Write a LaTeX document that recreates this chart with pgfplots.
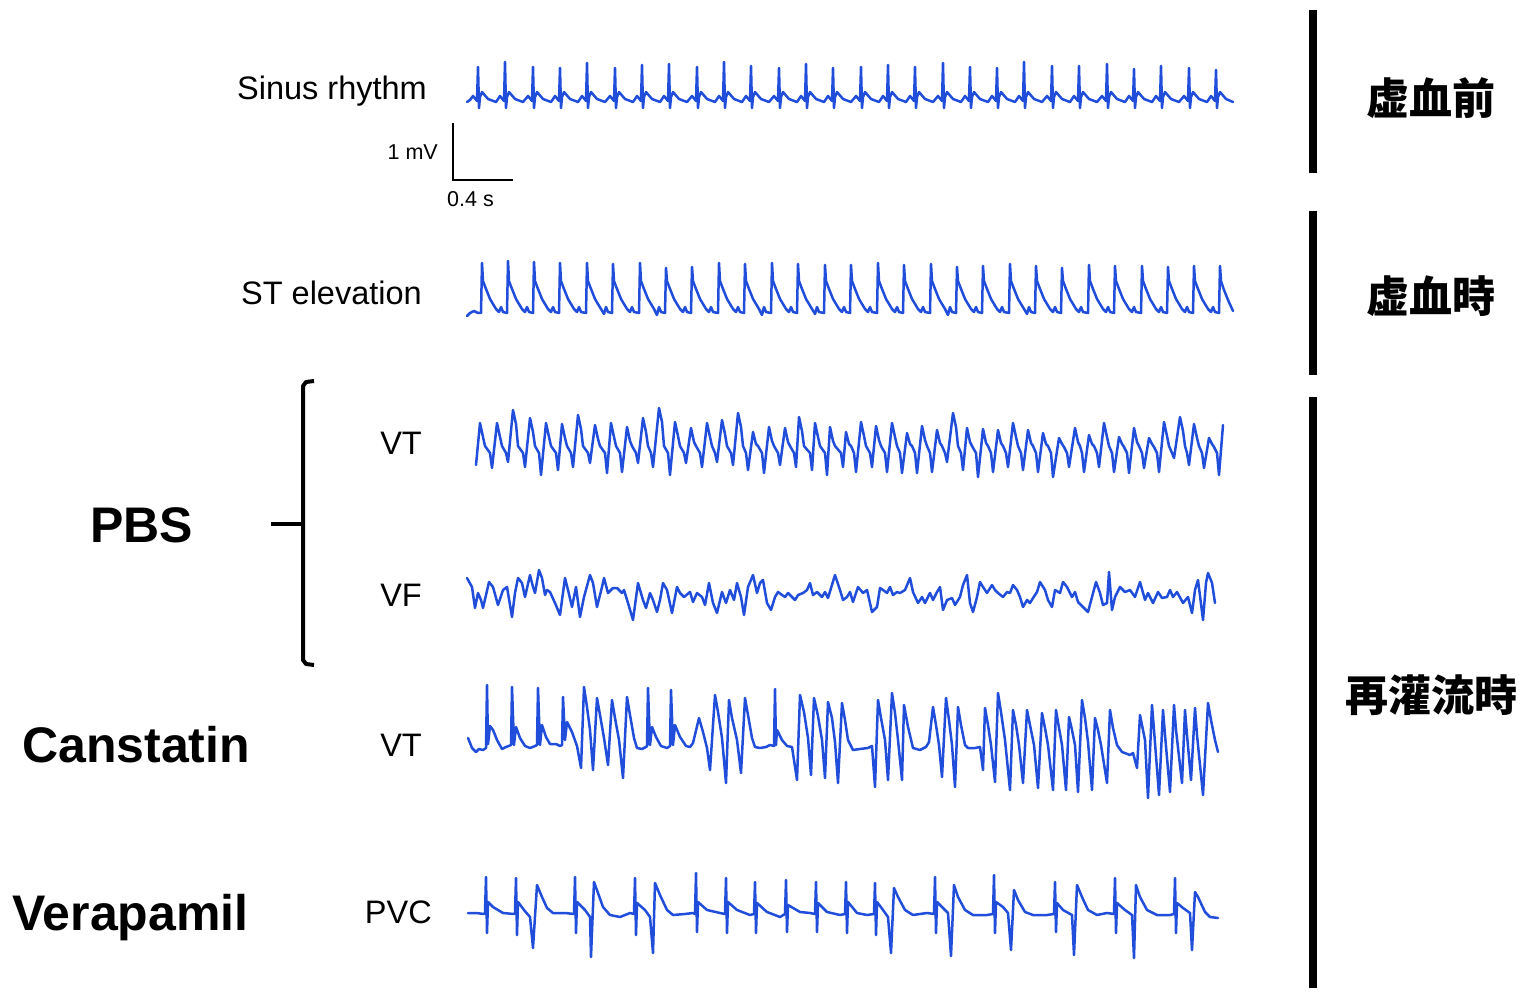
\documentclass[border=0pt]{standalone}
\usepackage{fontspec}
\setmainfont{Liberation Sans}
\newfontfamily\cjk{Noto Sans CJK JP}
\usepackage{pgfplots}
\pgfplotsset{compat=1.18}
\definecolor{ecg}{RGB}{32,78,218}
\pgfplotsset{trace/.style={ecg, line width=2.5pt, line join=round, line cap=round, mark=none}}
\begin{document}
\begin{tikzpicture}
\begin{axis}[width=1526pt, height=988pt, scale only axis,
  xmin=0, xmax=1526, ymin=0, ymax=988, y dir=reverse,
  hide axis, clip=false]
\path (axis cs:0,0) rectangle (axis cs:1526,988);

% sinus rhythm
\addplot[trace] coordinates {(467,102)(470,100)
(473,96)(477,101)(478,67)(479,108)(480,97)(482,92)(488,99)(496,102)
(500,96)(504,101)(505,62)(506,108)(507,97)(509,92)(515,99)(523,102)
(528,96)(532,101)(533,67)(534,108)(535,97)(537,92)(543,99)(551,102)
(555,96)(559,101)(560,68)(561,108)(562,97)(564,92)(570,99)(578,102)
(582,96)(586,101)(587,63)(588,108)(589,97)(591,92)(597,99)(605,102)
(610,96)(614,101)(615,68)(616,108)(617,97)(619,92)(625,99)(633,102)
(637,96)(641,101)(642,65)(643,108)(644,97)(646,92)(652,99)(660,102)
(664,96)(668,101)(669,64)(670,108)(671,97)(673,92)(679,99)(687,102)
(692,96)(696,101)(697,67)(698,108)(699,97)(701,92)(707,99)(715,102)
(719,96)(723,101)(724,62)(725,108)(726,97)(728,92)(734,99)(742,102)
(746,96)(750,101)(751,66)(752,108)(753,97)(755,92)(761,99)(769,102)
(774,96)(778,101)(779,68)(780,108)(781,97)(783,92)(789,99)(797,102)
(801,96)(805,101)(806,64)(807,108)(808,97)(810,92)(816,99)(824,102)
(828,96)(832,101)(833,68)(834,108)(835,97)(837,92)(843,99)(851,102)
(856,96)(860,101)(861,67)(862,108)(863,97)(865,92)(871,99)(879,102)
(883,96)(887,101)(888,65)(889,108)(890,97)(892,92)(898,99)(906,102)
(910,96)(914,101)(915,67)(916,108)(917,97)(919,92)(925,99)(933,102)
(938,96)(942,101)(943,63)(944,108)(945,97)(947,92)(953,99)(961,102)
(965,96)(969,101)(970,67)(971,108)(972,97)(974,92)(980,99)(988,102)
(992,96)(996,101)(997,68)(998,108)(999,97)(1001,92)(1007,99)(1015,102)
(1019,96)(1023,101)(1024,62)(1025,108)(1026,97)(1028,92)(1034,99)(1042,102)
(1047,96)(1051,101)(1052,66)(1053,108)(1054,97)(1056,92)(1062,99)(1070,102)
(1074,96)(1078,101)(1079,66)(1080,108)(1081,97)(1083,92)(1089,99)(1097,102)
(1102,96)(1106,101)(1107,64)(1108,108)(1109,97)(1111,92)(1117,99)(1125,102)
(1129,96)(1133,101)(1134,69)(1135,108)(1136,97)(1138,92)(1144,99)(1152,102)
(1156,96)(1160,101)(1161,66)(1162,108)(1163,97)(1165,92)(1171,99)(1179,102)
(1184,96)(1188,101)(1189,68)(1190,108)(1191,97)(1193,92)(1199,99)(1207,102)
(1211,96)(1215,101)(1216,70)(1217,108)(1218,97)(1220,92)(1226,99)(1233,102)};

% ST elevation
\addplot[trace] coordinates {(467,316)(470,313)(474,311)(478,313)
(481,313)(482,263)(483,281)(486,289)(490,299)(496,309)(499,312)(501,307)(503,312)
(507,313)(508,261)(509,281)(512,289)(516,299)(522,309)(525,312)(527,307)(529,312)
(533,313)(534,262)(535,281)(538,289)(542,299)(548,309)(551,312)(553,307)(555,312)
(559,313)(560,263)(561,281)(564,289)(568,299)(574,309)(577,312)(579,307)(581,312)
(586,313)(587,263)(588,281)(591,289)(595,299)(601,309)(604,314)(606,307)(608,312)
(612,313)(613,264)(614,281)(617,289)(621,299)(627,309)(630,312)(632,307)(634,312)
(639,313)(640,263)(641,281)(644,289)(648,299)(654,309)(657,315)(659,307)(661,312)
(665,313)(666,268)(667,281)(670,289)(674,299)(680,309)(683,312)(685,307)(687,312)
(691,313)(692,267)(693,281)(696,289)(700,299)(706,309)(709,312)(711,307)(713,312)
(718,313)(719,263)(720,281)(723,289)(727,299)(733,309)(736,312)(738,307)(740,312)
(744,313)(745,264)(746,281)(749,289)(753,299)(759,309)(762,315)(764,307)(766,312)
(771,313)(772,263)(773,281)(776,289)(780,299)(786,309)(789,312)(791,307)(793,312)
(797,313)(798,264)(799,281)(802,289)(806,299)(812,309)(815,314)(817,307)(819,312)
(824,313)(825,265)(826,281)(829,289)(833,299)(839,309)(842,312)(844,307)(846,312)
(850,313)(851,265)(852,281)(855,289)(859,299)(865,309)(868,312)(870,307)(872,312)
(877,313)(878,263)(879,281)(882,289)(886,299)(892,309)(895,312)(897,307)(899,312)
(903,313)(904,265)(905,281)(908,289)(912,299)(918,309)(921,312)(923,307)(925,312)
(930,313)(931,264)(932,281)(935,289)(939,299)(945,309)(948,315)(950,307)(952,312)
(956,313)(957,267)(958,281)(961,289)(965,299)(971,309)(974,312)(976,307)(978,312)
(982,313)(983,266)(984,281)(987,289)(991,299)(997,309)(1000,312)(1002,307)(1004,312)
(1009,313)(1010,264)(1011,281)(1014,289)(1018,299)(1024,309)(1027,314)(1029,307)(1031,312)
(1035,313)(1036,266)(1037,281)(1040,289)(1044,299)(1050,309)(1053,312)(1055,307)(1057,312)
(1061,313)(1062,268)(1063,281)(1066,289)(1070,299)(1076,309)(1079,312)(1081,307)(1083,312)
(1088,313)(1089,265)(1090,281)(1093,289)(1097,299)(1103,309)(1106,312)(1108,307)(1110,312)
(1114,313)(1115,266)(1116,281)(1119,289)(1123,299)(1129,309)(1132,312)(1134,307)(1136,312)
(1141,313)(1142,266)(1143,281)(1146,289)(1150,299)(1156,309)(1159,312)(1161,307)(1163,312)
(1167,313)(1168,267)(1169,281)(1172,289)(1176,299)(1182,309)(1185,312)(1187,307)(1189,312)
(1193,313)(1194,266)(1195,281)(1198,289)(1202,299)(1208,309)(1211,312)(1213,307)(1215,312)
(1219,313)(1220,266)(1221,281)(1224,290)(1228,300)(1233,311)};

% PBS VT
\addplot[trace] coordinates {(476,465)
(480,423)(483,437)(485,446)(490,453)(492,468)
(497,423)(500,437)(502,446)(506,453)(508,462)
(513,410)(516,424)(518,446)(523,453)(525,467)
(530,418)(533,432)(535,446)(539,453)(541,475)
(546,423)(549,437)(551,446)(556,453)(558,470)
(562,424)(565,438)(567,446)(571,453)(573,467)
(578,415)(581,429)(583,446)(588,453)(590,463)
(595,425)(598,439)(600,446)(605,453)(607,473)
(611,423)(614,437)(616,446)(620,453)(622,472)
(627,427)(630,441)(632,446)(636,453)(638,463)
(643,418)(646,432)(648,446)(651,453)(653,467)
(659,408)(662,422)(664,446)(668,453)(670,475)
(675,422)(678,436)(680,446)(684,453)(686,463)
(691,428)(694,442)(696,446)(700,453)(702,467)
(707,423)(710,437)(712,446)(715,453)(717,462)
(722,420)(725,434)(727,446)(731,453)(733,465)
(738,413)(741,427)(743,446)(746,453)(748,470)
(753,432)(756,444)(758,446)(762,453)(764,473)
(769,427)(772,441)(774,446)(778,453)(780,465)
(785,428)(788,442)(790,446)(794,453)(796,467)
(799,417)(802,431)(804,446)(810,453)(812,470)
(815,423)(818,437)(820,446)(825,453)(827,475)
(830,427)(833,441)(835,446)(841,453)(843,467)
(846,432)(849,444)(851,446)(854,453)(856,472)
(861,422)(864,436)(866,446)(870,453)(872,467)
(876,426)(879,440)(881,446)(885,453)(887,472)
(892,423)(895,437)(897,446)(900,453)(902,473)
(907,433)(910,444)(912,446)(915,453)(917,473)
(922,426)(925,440)(927,446)(930,453)(932,472)
(937,430)(940,443)(942,446)(945,453)(947,462)
(953,413)(956,427)(958,446)(961,453)(963,470)
(967,428)(970,442)(972,446)(976,453)(978,477)
(983,429)(986,443)(988,446)(991,453)(993,472)
(998,430)(1001,443)(1003,446)(1006,453)(1008,467)
(1013,423)(1016,437)(1018,446)(1021,453)(1023,470)
(1028,430)(1031,443)(1033,446)(1036,453)(1038,472)
(1043,433)(1046,444)(1048,446)(1051,453)(1053,477)
(1059,438)(1062,444)(1064,447)(1067,453)(1069,467)
(1075,428)(1078,442)(1080,446)(1082,453)(1084,472)
(1089,435)(1092,444)(1094,446)(1097,453)(1099,467)
(1104,423)(1107,437)(1109,446)(1112,453)(1114,472)
(1119,437)(1122,444)(1124,447)(1127,453)(1129,473)
(1134,428)(1137,442)(1139,446)(1142,453)(1144,468)
(1149,438)(1152,444)(1154,447)(1157,453)(1159,472)
(1164,422)(1167,436)(1169,446)(1172,453)(1174,458)
(1180,417)(1183,431)(1185,446)(1187,453)(1189,465)
(1194,424)(1197,438)(1199,446)(1202,453)(1204,468)
(1209,438)(1212,444)(1214,447)(1217,453)(1219,475)
(1223,425)};

% PBS VF
\addplot[trace] coordinates {(467,578)(472,587)(475,608)(478,593)(481,600)(483,608)
(489,582)(493,587)(498,605)(503,590)(507,587)(512,617)(515,593)(518,578)(522,583)
(525,597)(530,575)(533,587)(535,593)(539,570)(542,578)(545,595)(547,590)(550,592)
(555,603)(560,615)(565,578)(568,590)(572,607)(576,587)(580,617)(584,597)(590,575)
(593,583)(597,607)(602,587)(604,578)(608,593)(613,588)(617,588)(622,593)(624,590)
(628,603)(633,620)(638,583)(643,600)(646,608)(650,593)(653,600)(657,612)(660,600)
(663,583)(667,590)(672,613)(677,587)(680,593)(684,597)(690,592)(693,602)(697,593)
(702,597)(705,605)(709,583)(713,603)(717,613)(722,592)(726,603)(730,590)(734,600)
(737,583)(741,597)(744,615)(748,587)(753,575)(757,593)(760,583)(763,580)(767,603)
(771,610)(775,597)(778,592)(782,595)(785,597)(788,593)(792,597)(795,600)(798,595)
(803,593)(807,590)(810,583)(813,595)(817,592)(822,597)(825,592)(828,598)(835,575)
(840,590)(843,600)(847,597)(850,592)(853,602)(858,587)(863,593)(867,590)(872,612)
(877,607)(880,588)(883,590)(887,593)(890,587)(893,595)(897,592)(900,593)(905,590)
(910,578)(913,592)(918,603)(922,597)(925,603)(930,593)(933,600)(937,592)(940,587)
(943,610)(947,600)(952,598)(955,605)(960,597)(963,585)(967,575)(970,603)(973,612)
(977,597)(980,582)(983,587)(987,593)(992,585)(995,590)(998,593)(1003,597)(1007,592)
(1010,593)(1013,585)(1017,590)(1020,597)(1023,607)(1027,600)(1030,603)(1033,598)
(1037,592)(1040,582)(1045,590)(1048,600)(1052,607)(1055,590)(1060,593)(1063,582)
(1067,587)(1072,597)(1075,592)(1078,602)(1083,607)(1088,612)(1092,597)(1096,582)
(1100,593)(1103,605)(1107,603)(1109,572)(1112,610)(1115,597)(1120,587)(1125,592)
(1130,590)(1135,597)(1140,582)(1145,600)(1148,593)(1153,603)(1158,592)(1162,598)
(1167,597)(1170,590)(1173,597)(1177,592)(1183,603)(1188,597)(1192,613)(1195,590)
(1198,580)(1203,620)(1206,583)(1208,573)(1212,583)(1215,603)};

% Canstatin VT
\addplot[trace] coordinates {(468,738)(472,748)(476,752)(479,749)(483,750)(486,748)
(487,685)(488,744)(490,726)(493,730)(497,740)(502,749)(506,747)(511,745)
(512,687)(514,745)(516,727)(520,738)(525,746)(530,748)(535,746)(537,745)
(538,688)(540,745)(542,725)(546,737)(550,744)(556,744)(560,746)(562,745)
(563,697)(565,740)(567,722)(572,732)(577,746)
(581,768)(584,687)(587,707)(590,730)(593,770)(597,698)(600,715)(604,738)(608,765)
(612,700)(615,718)(619,740)(623,778)(627,697)(630,715)(634,738)(637,748)(642,749)(646,747)
(647,746)(648,688)(650,745)(652,727)(656,737)(661,746)(667,748)(670,746)
(671,690)(673,745)(675,725)(680,737)(686,746)(690,747)(693,743)
(699,718)(703,732)(707,748)(710,770)(715,695)(718,712)(722,738)(726,783)(729,700)
(732,718)(737,740)(741,773)(745,698)(748,715)(752,738)(755,747)(760,748)(766,747)(770,745)
(774,746)(775,689)(776,745)(777,730)(782,740)(787,746)(792,747)
(797,780)(800,695)(804,712)(808,738)(811,775)(814,698)(818,716)(822,740)(825,778)
(828,702)(832,718)(835,742)(838,783)(842,703)(845,720)(848,740)(853,750)(860,749)(868,748)(872,746)
(875,787)(878,700)(881,718)(885,740)(888,780)(892,693)(895,713)(898,740)(902,780)
(904,705)(908,727)(913,748)(920,750)(926,747)(929,742)
(933,707)(936,725)(939,745)(942,777)(946,698)(949,720)(952,745)(955,787)(958,707)
(961,725)(965,745)(968,748)(975,748)(980,747)(983,770)(985,708)(988,725)(991,745)
(995,782)(998,693)(1001,712)(1005,740)(1010,790)(1013,710)(1016,725)(1019,745)
(1023,783)(1027,710)(1030,725)(1034,745)(1038,788)(1042,713)(1045,728)(1048,745)
(1053,790)(1056,710)(1059,728)(1062,745)(1066,790)(1069,717)(1072,730)(1075,745)
(1078,792)(1082,700)(1085,718)(1088,742)(1092,790)(1095,718)(1098,730)(1101,745)
(1107,783)(1110,710)(1113,728)(1117,745)(1122,752)(1130,755)(1133,753)
(1137,768)(1140,715)(1142,725)(1145,740)(1148,798)(1152,705)(1154,730)(1159,795)
(1163,710)(1165,735)(1170,792)(1174,705)(1176,730)(1182,783)(1185,710)(1187,735)
(1191,780)(1195,708)(1197,735)(1203,795)(1208,703)(1211,720)(1215,740)(1218,752)};

% Verapamil PVC
\addplot[trace] coordinates {(468,913)(476,913)(484,914)(485,913)(486,877)(487,933)
(488,902)(493,907)(503,913)(514,914)(515,913)(516,878)(517,935)(518,902)(524,910)
(530,917)(533,948)(537,885)(542,897)(547,908)(553,913)(565,913)(574,914)(575,877)
(576,933)(577,902)(585,910)(590,917)(591,957)(594,882)(598,893)(603,907)(610,915)
(620,917)(630,913)(634,914)(635,878)(636,935)(637,903)(645,910)(650,917)(653,953)
(655,883)(660,895)(667,910)(673,915)(685,914)(693,913)(695,914)(696,873)(697,932)
(698,902)(707,910)(720,913)(725,914)(726,878)(727,933)(728,902)(737,910)(750,915)
(754,914)(755,882)(756,933)(757,903)(767,912)(780,917)(785,914)(786,880)(787,932)
(788,905)(800,912)(810,913)(815,914)(816,882)(817,932)(818,903)(827,912)(840,915)
(845,914)(846,882)(847,933)(848,902)(857,913)(867,915)(874,914)(875,883)(876,935)
(877,902)(883,910)(888,917)(891,953)(894,888)(898,897)(905,910)(913,915)(927,913)
(934,914)(935,877)(936,933)(937,902)(943,908)(948,913)(951,956)(954,885)(958,897)
(965,910)(973,915)(987,915)(993,914)(994,875)(995,933)(996,902)(1003,907)(1008,913)
(1011,950)(1014,890)(1018,900)(1025,912)(1033,915)(1047,915)(1054,914)(1055,882)
(1056,932)(1057,903)(1063,910)(1072,915)(1074,955)(1077,885)(1082,897)(1088,910)
(1097,915)(1107,913)(1114,914)(1115,878)(1116,933)(1117,903)(1125,910)(1132,915)
(1134,958)(1136,885)(1140,897)(1147,910)(1157,915)(1170,915)(1174,914)(1175,878)
(1176,933)(1177,903)(1183,908)(1190,913)(1192,950)(1195,892)(1198,897)(1205,912)
(1210,917)(1218,918)};

% scale bar
\addplot[black, line width=2pt, mark=none] coordinates {(453,123)(453,180)(513,180)};
% PBS bracket
\addplot[black, line width=4pt, mark=none, line join=round] coordinates {(314,381)(306,382)(303,386)(303,660)(306,664)(314,665)};
\addplot[black, line width=4pt, mark=none] coordinates {(271,524)(303,524)};
% phase bars
\addplot[black, line width=8pt, mark=none] coordinates {(1313,10)(1313,173)};
\addplot[black, line width=8pt, mark=none] coordinates {(1313,211)(1313,375)};
\addplot[black, line width=8pt, mark=none] coordinates {(1313,397)(1313,988)};

% labels
\begin{scope}[every node/.style={inner sep=0pt, font=\fontsize{32.5}{38}\selectfont}]
\node[anchor=base east] at (axis cs:427,100) {Sinus rhythm};
\node[anchor=base east] at (axis cs:422,305) {ST elevation};
\node[anchor=base east] at (axis cs:422,454) {VT};
\node[anchor=base east] at (axis cs:422,606) {VF};
\node[anchor=base east] at (axis cs:422,756) {VT};
\node[anchor=base east] at (axis cs:432,923) {PVC};
\end{scope}
\begin{scope}[every node/.style={inner sep=0pt, font=\fontsize{21.5}{26}\selectfont}]
\node[anchor=base east] at (axis cs:438,160) {1 mV};
\node[anchor=base west] at (axis cs:447,207) {0.4 s};
\end{scope}
\begin{scope}[every node/.style={inner sep=0pt, font=\fontsize{50}{60}\selectfont\bfseries}]
\node[anchor=base west] at (axis cs:90,542) {PBS};
\node[anchor=base west] at (axis cs:22,762) {Canstatin};
\node[anchor=base west] at (axis cs:12,930) {Verapamil};
\end{scope}
\begin{scope}[every node/.style={inner sep=0pt, font=\cjk\fontsize{43}{50}\selectfont\bfseries}]
\node at (axis cs:1431,98) {虚血前};
\node at (axis cs:1431,296) {虚血時};
\node at (axis cs:1431,695) {再灌流時};
\end{scope}
\end{axis}
\end{tikzpicture}
\end{document}
